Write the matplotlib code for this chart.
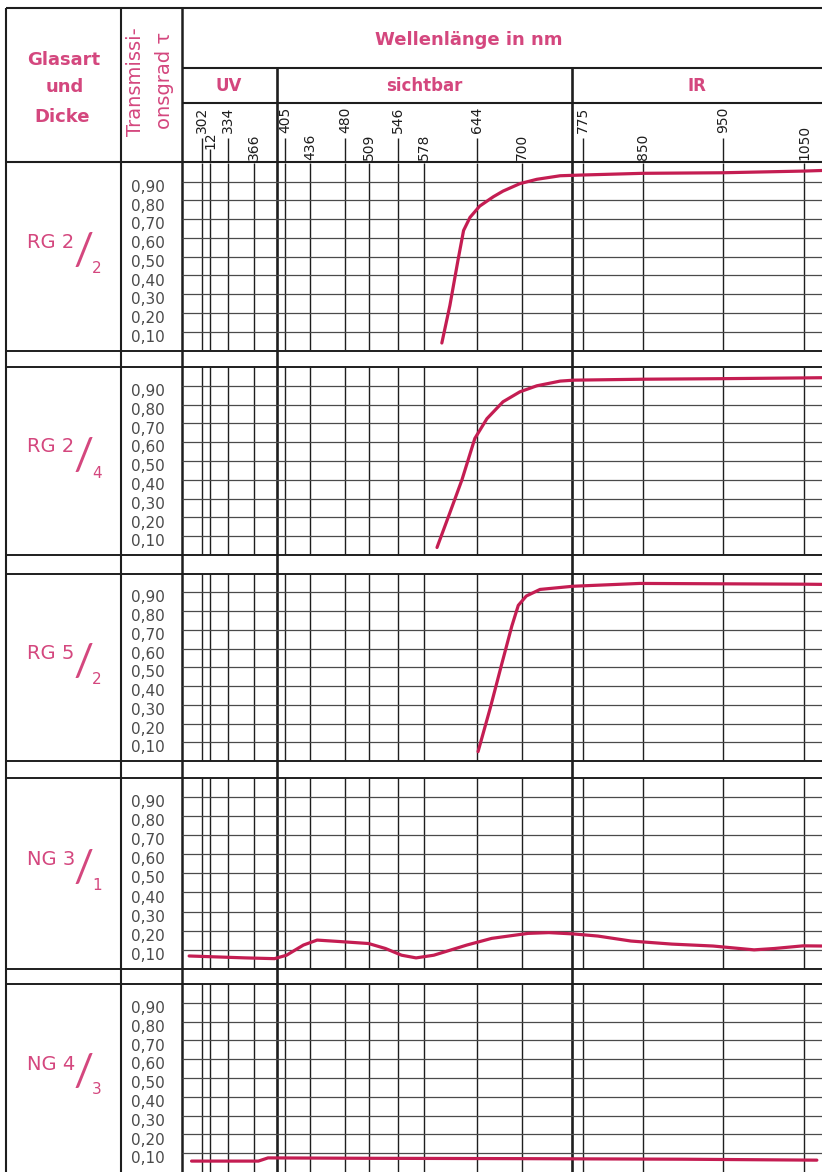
import matplotlib
matplotlib.use("Agg")
import matplotlib.pyplot as plt

W, H = 822, 1172
PINK = "#d4477e"
CURVE = "#c41d52"
INK = "#1e1e1e"
GREY = "#4a4a4a"

plt.rcParams["font.family"] = ["DejaVu Sans"]

# --- data ---
glass = ["RG 2", "RG 2", "RG 5", "NG 3", "NG 4"]
thickness = ["2", "4", "2", "1", "3"]

wavelengths = [302, 312, 334, 366, 405, 436, 480, 509, 546, 578, 644, 700, 775, 850, 950, 1050]
wl_labels = ["302", "12", "334", "366", "405", "436", "480", "509", "546", "578",
             "644", "700", "775", "850", "950", "1050"]
wl_row = ["top", "mid", "top", "low", "top", "low", "top", "low", "top", "low",
          "top", "low", "top", "low", "top", "low"]
band_names = ["UV", "sichtbar", "IR"]
band_edges = [395, 762]

levels = [0.1, 0.2, 0.3, 0.4, 0.5, 0.6, 0.7, 0.8, 0.9]
level_labels = ["0,10", "0,20", "0,30", "0,40", "0,50", "0,60", "0,70", "0,80", "0,90"]

lam_rg22 = [600, 610, 620, 627, 635, 647, 664, 676, 697, 718, 747, 775, 850, 950, 1050, 1072]
tau_rg22 = [0.04, 0.24, 0.48, 0.64, 0.71, 0.77, 0.82, 0.85, 0.89, 0.913, 0.932, 0.936,
            0.945, 0.948, 0.957, 0.96]

lam_rg24 = [594, 610, 625, 641, 656, 676, 697, 718, 747, 764, 850, 950, 1050, 1072]
tau_rg24 = [0.04, 0.225, 0.40, 0.62, 0.725, 0.815, 0.868, 0.90, 0.925, 0.93, 0.935,
            0.938, 0.942, 0.943]

lam_rg52 = [645, 660, 674, 687, 695, 705, 722, 763, 846, 950, 1050, 1072]
tau_rg52 = [0.05, 0.28, 0.51, 0.72, 0.83, 0.88, 0.915, 0.932, 0.947, 0.945, 0.943, 0.942]

lam_ng31 = [286, 356, 392, 407, 428, 445, 478, 509, 530, 550, 568, 590, 631, 662, 707,
            733, 764, 794, 835, 886, 937, 988, 1013, 1049, 1072]
tau_ng31 = [0.068, 0.058, 0.054, 0.072, 0.125, 0.151, 0.142, 0.133, 0.107, 0.072, 0.058,
            0.072, 0.125, 0.16, 0.186, 0.19, 0.183, 0.172, 0.146, 0.13, 0.12, 0.10, 0.107,
            0.121, 0.12]

lam_ng43 = [289, 372, 384, 500, 700, 900, 1066]
tau_ng43 = [0.058, 0.058, 0.075, 0.073, 0.071, 0.068, 0.063]

curves = [(lam_rg22, tau_rg22), (lam_rg24, tau_rg24), (lam_rg52, tau_rg52),
          (lam_ng31, tau_ng31), (lam_ng43, tau_ng43)]

# --- layout (pixels) ---
XMIN, XMAX = 276.5, 1072.4
GX0 = 181.5
panel_top = [163, 367, 573.5, 777.5, 984]
panel_bot = [350.5, 555, 761, 969, 1172]


def px_axes(fig, x0, y0, x1, y1):
    return fig.add_axes([x0 / W, 1 - y1 / H, (x1 - x0) / W, (y1 - y0) / H])


fig = plt.figure(figsize=(W / 100, H / 100), dpi=100)

# background: table frame and left columns
bg = px_axes(fig, 0, 0, W, H)
bg.set_xlim(0, W)
bg.set_ylim(H, 0)
bg.axis("off")
bg.vlines([6, 121], 8, H, color=INK, lw=1.5)
bg.vlines([GX0], 8, H, color=INK, lw=1.8)
bg.hlines([8, 162], 6, W, color=INK, lw=1.5)
bg.hlines(panel_top[1:] + panel_bot[:-1], 6, W, color=INK, lw=1.4)

bg.text(64, 60, "Glasart", color=PINK, fontsize=13, fontweight="bold", ha="center", va="center")
bg.text(65, 87, "und", color=PINK, fontsize=13, fontweight="bold", ha="center", va="center")
bg.text(62, 117, "Dicke", color=PINK, fontsize=13, fontweight="bold", ha="center", va="center")
bg.text(135, 82, "Transmissi-", color=PINK, fontsize=14, rotation=90, ha="center", va="center")
bg.text(164, 80, "onsgrad τ", color=PINK, fontsize=14, rotation=90, ha="center", va="center")
bg.text(469, 40, "Wellenlänge in nm", color=PINK, fontsize=13, fontweight="bold",
        ha="center", va="center")

for i in range(len(glass)):
    yc = (panel_top[i] + panel_bot[i]) / 2
    bg.text(27, yc - 14, glass[i], color=PINK, fontsize=14, ha="left", va="center")
    bg.text(84, yc - 4, "/", color=PINK, fontsize=32, ha="center", va="center",
            family=["Lato", "DejaVu Sans"])
    bg.text(97, yc + 12, thickness[i], color=PINK, fontsize=11, ha="center", va="center")

# header over the grid: bands and wavelength labels
hd = px_axes(fig, GX0, 0, W, H)
hd.set_xlim(XMIN, XMAX)
hd.set_ylim(H, 0)
hd.axis("off")
hd.hlines([68, 103], XMIN, XMAX, color=INK, lw=1.5)
hd.vlines(band_edges, 68, H, color=INK, lw=1.9)
band_lims = [XMIN] + band_edges + [XMAX]
for name, a, b in zip(band_names, band_lims[:-1], band_lims[1:]):
    hd.text((a + b) / 2, 86, name, color=PINK, fontsize=12, fontweight="bold",
            ha="center", va="center")
for wl, lab, row in zip(wavelengths, wl_labels, wl_row):
    if row == "top":
        hd.text(wl, 107, lab, fontsize=10, rotation=90, ha="center", va="top", color=INK)
        hd.vlines(wl, 138, 162, color=INK, lw=1.0)
    elif row == "mid":
        hd.text(wl, 149, lab, fontsize=10, rotation=90, ha="center", va="bottom", color=INK)
        hd.vlines(wl, 149, 162, color=INK, lw=1.0)
    else:
        hd.text(wl, 160, lab, fontsize=10, rotation=90, ha="center", va="bottom", color=INK)

# the five panels
for i, (lam, tau) in enumerate(curves):
    ax = px_axes(fig, GX0, panel_top[i], W, panel_bot[i])
    ax.set_facecolor("none")
    ax.set_xlim(XMIN, XMAX)
    ax.set_ylim(0, 1)
    for s in ax.spines.values():
        s.set_visible(False)
    ax.set_xticks([])
    ax.set_yticks([])
    ax.vlines(wavelengths, 0, 1, color=INK, lw=1.0)
    ax.hlines(levels, XMIN, XMAX, color=GREY, lw=0.9)
    ax.plot(lam, tau, color=CURVE, lw=2.3, solid_capstyle="round")
    for lev, lab in zip(levels, level_labels):
        ax.text(-0.052, lev - 0.03, lab, transform=ax.get_yaxis_transform(),
                ha="center", va="center", fontsize=11, color=GREY)

fig.savefig("out.png", dpi=100)
